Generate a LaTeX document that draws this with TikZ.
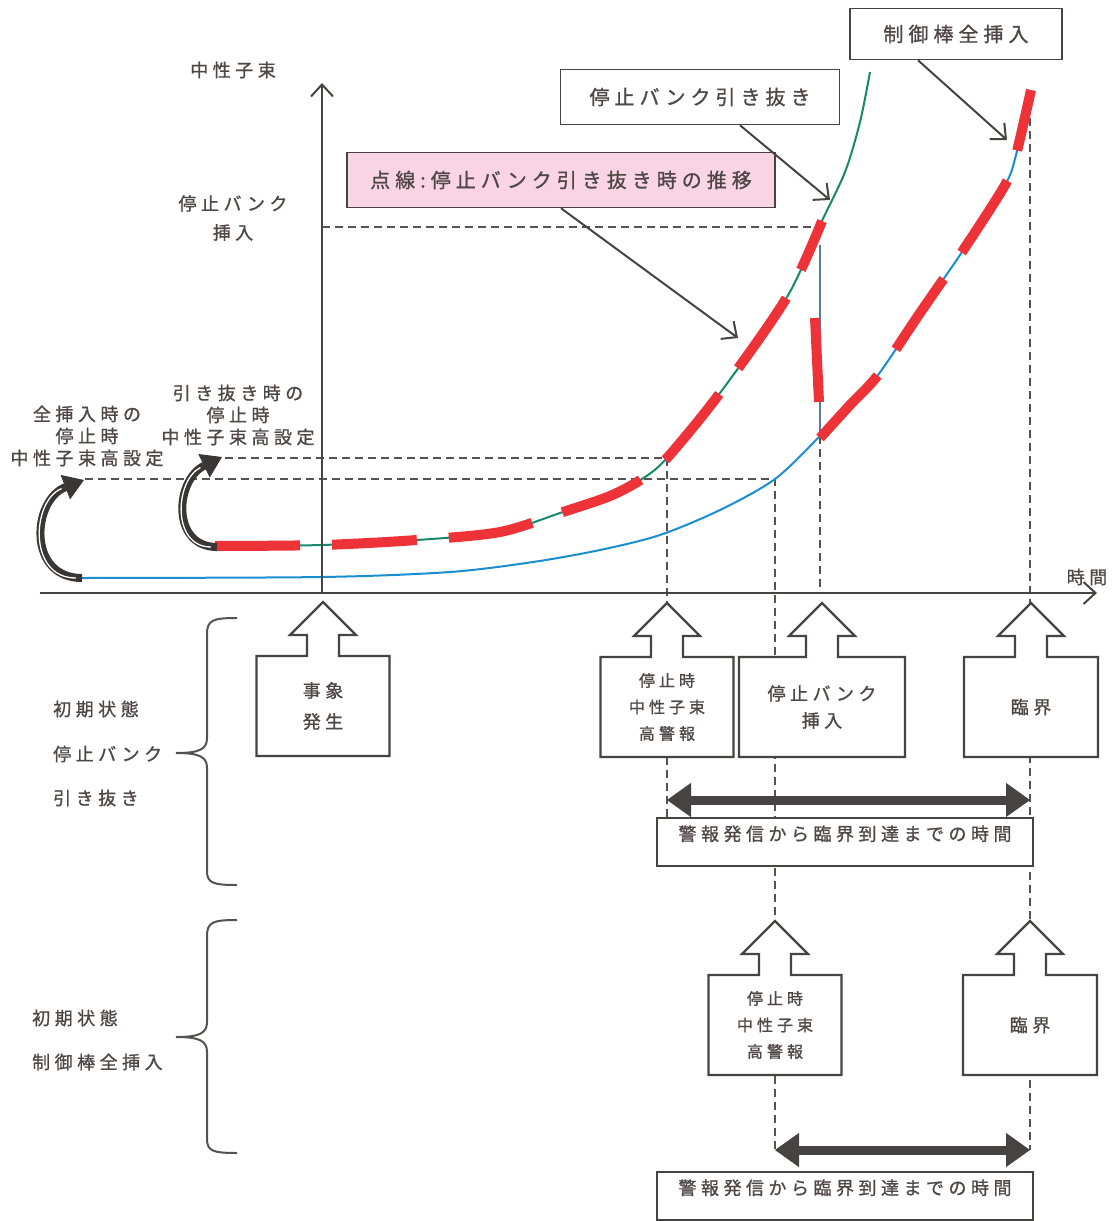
\documentclass[tikz,border=0pt]{standalone}
\usepackage{fontspec}
\setmainfont{Noto Sans CJK JP}
\newfontfamily\jpw[LetterSpace=25,FakeBold=1]{Noto Sans CJK JP}
\usetikzlibrary{arrows.meta,positioning}
\definecolor{txtgray}{HTML}{4F4747}
\definecolor{linegray}{HTML}{484343}
\definecolor{dashgray}{HTML}{575252}
\definecolor{trendred}{HTML}{EE3338}
\definecolor{pullgreen}{HTML}{17896B}
\definecolor{insblue}{HTML}{1A8DD1}
\definecolor{dropblue}{HTML}{5A78A8}
\definecolor{notepink}{HTML}{F9D4E4}
\pgfdeclarelayer{bg}
\pgfdeclarelayer{mid}
\pgfsetlayers{bg,mid,main}
\tikzset{
	lbl/.style={text=txtgray, inner sep=0pt, align=center, font=\jpw\fontsize{18}{22}\selectfont},
	axisline/.style={draw=linegray, line width=2.2pt, -{Straight Barb[length=12pt,width=22pt,line width=2pt]}},
	guide/.style={draw=dashgray, line width=2pt, dash pattern=on 8pt off 5pt},
	trend/.style={draw=trendred, line width=10pt, dash pattern=on 85pt off 32pt},
	tagbox/.style={draw=linegray, line width=1.5pt, fill=white, inner sep=0pt, text=txtgray, font=\jpw\fontsize{20}{24}\selectfont},
	pointer/.style={draw=linegray, line width=2pt, -{Straight Barb[length=12pt,width=22pt,line width=2pt]}},
	callbox/.style={inner sep=0pt, outer sep=0pt, minimum height=100pt, text=txtgray, align=center, font=\jpw\fontsize{18}{31}\selectfont},
	callline/.style={draw=linegray, line width=2.2pt, fill=white},
	span/.style={draw=linegray, line width=9pt, {Triangle[length=24pt,width=34pt,line width=1pt]}-{Triangle[length=24pt,width=34pt,line width=1pt]}},
	spanbox/.style={draw=linegray, line width=1.2pt, fill=white, minimum width=376pt, minimum height=48pt, text depth=18pt, inner sep=0pt, text=txtgray, font=\jpw\fontsize{18}{22}\selectfont},
	hook/.style={draw=linegray!80!black, line width=8pt, -{Triangle[length=20pt,width=26pt,line width=1pt]}},
	bracegray/.style={draw=dashgray, line width=2pt},
}
% outline of an up-arrow box round a node
\newcommand{\callshape}[1]{%
	\begin{pgfonlayer}{mid}
		\draw[callline] (#1.north west) -- ([xshift=-16pt]#1.north) -- ([xshift=-16pt,yshift=21pt]#1.north)
		-- ([xshift=-33pt,yshift=21pt]#1.north) -- ([yshift=54pt]#1.north) -- ([xshift=33pt,yshift=21pt]#1.north)
		-- ([xshift=16pt,yshift=21pt]#1.north) -- ([xshift=16pt]#1.north) -- (#1.north east)
		-- (#1.south east) -- (#1.south west) -- cycle;
	\end{pgfonlayer}}
\begin{document}
\begin{tikzpicture}[x=1pt,y=-1pt]
	\useasboundingbox (0,0) rectangle (1116,1221);
	% curves and guide lines
	\begin{pgfonlayer}{bg}
		\draw[guide] (322,227) -- (822,227);
		\draw[guide] (225,458) -- (667,458) -- (667,818);
		\draw[guide] (85,479) -- (775,479) -- (775,1150);
		\draw[guide] (820,436) -- (820,593);
		\draw[guide] (1030,118) -- (1030,1150);
		\draw[insblue, line width=2pt] plot[smooth] coordinates {(80,578) (322,577) (450,572) (533,562) (600,550) (660,535) (720,510) (775,479) (820,436) (850,405) (878,375) (920,313) (962,252) (1005,185) (1016,155) (1030,94)};
		\draw[pullgreen, line width=2pt] plot[smooth] coordinates {(215,546) (322,545) (417,540) (500,532) (563,512) (610,496) (642,479) (667,458) (720,393) (787,297) (820,225) (845,172) (860,122) (870,72)};
		\draw[dropblue, line width=2pt] (820,245) -- (820,436);
		\draw[trend] plot[smooth] coordinates {(215,546) (322,545) (417,540) (500,532) (563,512) (610,496) (642,479) (667,458) (720,393) (787,297) (822,221)};
		\draw[trendred, line width=10pt] (815,318) -- (819,402);
		\draw[trend] plot[smooth] coordinates {(820,438) (850,405) (878,375) (920,313) (962,252) (1005,185) (1016,155) (1031,90)};
	\end{pgfonlayer}

	% axes
	\draw[axisline] (40,593) -- (1097,593);
	\draw[axisline] (322,593) -- (322,83);
	\node[lbl] (yname) at (233,70) {中性子束};
	\node[lbl, font=\jpw\fontsize{18}{29}\selectfont] (ylevel) at (233,218) {停止バンク\\挿入};
	\node[lbl] (tname) at (1087,577) {時間};
	\node[lbl] (setA) at (87,436) {全挿入時の\\停止時\\中性子束高設定};
	\node[lbl] (setB) at (238,415) {引き抜き時の\\停止時\\中性子束高設定};

	% curved arrows
	\coordinate (hA0) at (82,578);
	\coordinate (hA1) at (84,480);
	\coordinate (hB0) at (217,547);
	\coordinate (hB1) at (222,457);
	\draw[hook] (hA0) .. controls (27,578) and (32,500) .. (hA1);
	\draw[white, line width=1.3pt, shorten >=24pt, shorten <=6pt] (hA0) .. controls (27,578) and (32,500) .. (hA1);
	\draw[hook] (hB0) .. controls (171,547) and (175,480) .. (hB1);
	\draw[white, line width=1.3pt, shorten >=24pt, shorten <=6pt] (hB0) .. controls (171,547) and (175,480) .. (hB1);

	% tags
	\node[tagbox, minimum width=212pt, minimum height=51pt] (allin) at (956,34) {制御棒全挿入};
	\node[tagbox, minimum width=279pt, minimum height=55pt] (pull) at (700,97) {停止バンク引き抜き};
	\node[tagbox, fill=notepink, minimum width=428pt, minimum height=55pt] (note) at (561,180) {点線:停止バンク引き抜き時の推移};
	\coordinate (gHit) at (830,200);
	\coordinate (tHit) at (738,338);
	\coordinate (bHit) at (1007,140);
	\draw[pointer] ([xshift=40pt]pull.south) -- (gHit);
	\draw[pointer] (note.south) -- (tHit);
	\draw[pointer] ([xshift=-38pt]allin.south) -- (bHit);

	% events on the time axis
	\node[callbox, minimum width=133pt] (event) at (323,706) {事象\\発生};
	\callshape{event}
	\node[callbox, minimum width=133pt, font=\jpw\fontsize{16}{26.5}\selectfont] (alarmA) at (667,707) {停止時\\中性子束\\高警報};
	\callshape{alarmA}
	\node[callbox, minimum width=166pt, font=\jpw\fontsize{18}{27}\selectfont] (bankin) at (822,707) {停止バンク\\挿入};
	\callshape{bankin}
	\node[callbox, minimum width=134pt] (critA) at (1031,707) {臨界};
	\callshape{critA}
	\node[callbox, minimum width=133pt, font=\jpw\fontsize{16}{26.5}\selectfont] (alarmB) at (775,1025) {停止時\\中性子束\\高警報};
	\callshape{alarmB}
	\node[callbox, minimum width=134pt] (critB) at (1030,1025) {臨界};
	\callshape{critB}

	% time spans
	\coordinate (spA0) at (667,800);
	\coordinate (spA1) at (1030,800);
	\coordinate (spB0) at (775,1150);
	\coordinate (spB1) at (1030,1150);
	\draw[span] (spA0) -- (spA1);
	\draw[span] (spB0) -- (spB1);
	\node[spanbox] (spanA) at (845,842) {警報発信から臨界到達までの時間};
	\node[spanbox] (spanB) at (845,1196) {警報発信から臨界到達までの時間};

	% initial states
	\draw[bracegray] (237,618) .. controls (213,618) and (207,620) .. (207,634) -- (207,738) .. controls (207,749) and (200,753) .. (176,753)
		.. controls (200,753) and (207,757) .. (207,768) -- (207,871) .. controls (207,883) and (213,885) .. (237,885);
	\draw[bracegray] (237,920) .. controls (213,920) and (207,922) .. (207,936) -- (207,1022) .. controls (207,1033) and (200,1037) .. (176,1037)
		.. controls (200,1037) and (207,1041) .. (207,1052) -- (207,1139) .. controls (207,1151) and (213,1153) .. (237,1153);
	\node[lbl, anchor=west] (initA) at (53,709) {初期状態};
	\node[lbl, anchor=west] (bankA) at (53,754) {停止バンク};
	\node[lbl, anchor=west] (pullA) at (53,798) {引き抜き};
	\node[lbl, anchor=west] (initB) at (32,1018) {初期状態};
	\node[lbl, anchor=west] (rodB) at (32,1062) {制御棒全挿入};
\end{tikzpicture}
\end{document}
